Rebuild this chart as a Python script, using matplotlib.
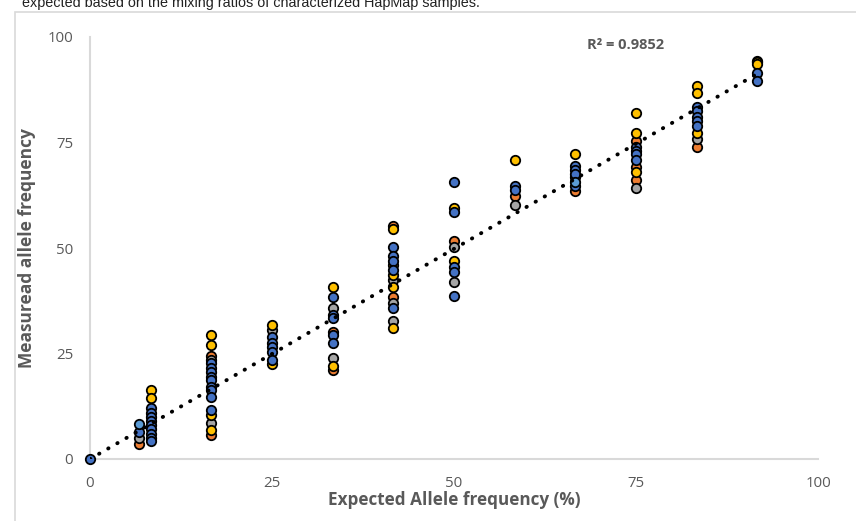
import matplotlib
matplotlib.use("Agg")
import matplotlib.pyplot as plt
import numpy as np
from matplotlib.patches import Rectangle

# expected allele frequency levels (%) and measured values per sample colour
blue_x = [0, 6.67] + [8.33] * 9 + [16.67] * 9 + [25] * 5 + [33.33] * 5 + [41.67] * 5 \
    + [50] * 5 + [58.33] * 2 + [66.67] * 4 + [75] * 4 + [83.33] * 5 + [91.67] * 2
blue_y = [0, 6.3,
          12.0, 11.0, 10.0, 9.0, 8.0, 7.0, 6.0, 5.0, 4.2,
          22.7, 21.5, 20.7, 19.5, 18.7, 17.1, 16.4, 14.8, 11.6,
          29.0, 27.4, 26.5, 25.4, 23.5,
          38.3, 34.1, 33.3, 29.4, 27.4,
          50.3, 48.1, 47.0, 44.8, 35.7,
          65.6, 58.5, 45.4, 44.2, 38.6,
          64.8, 63.7,
          69.4, 68.6, 67.5, 64.7,
          74.0, 73.0, 72.3, 70.9,
          83.5, 82.5, 81.1, 80.0, 78.9,
          91.5, 89.6]

orange_x = [6.67, 16.67, 16.67, 33.33, 33.33, 41.67, 41.67, 50, 58.33, 66.67, 75, 75, 75, 83.33]
orange_y = [3.6, 24.4, 5.7, 30.2, 21.1, 55.3, 38.5, 51.7, 62.4, 63.4, 75.4, 69.3, 66.1, 73.9]

gray_x = [6.67, 16.67, 16.67, 25, 33.33, 33.33, 41.67, 41.67, 41.67, 50, 50, 58.33, 75, 83.33, 91.67]
gray_y = [4.9, 23.5, 8.5, 30.6, 35.7, 23.9, 42.4, 37.0, 32.8, 50.3, 42.0, 60.3, 64.1, 75.8, 94.3]

yellow_x = [8.33, 8.33, 16.67, 16.67, 16.67, 16.67, 25, 25, 33.33, 33.33,
            41.67, 41.67, 41.67, 41.67, 41.67, 50, 50, 58.33, 66.67, 66.67,
            75, 75, 75, 83.33, 83.33, 83.33, 91.67, 91.67]
yellow_y = [16.4, 14.4, 29.4, 26.9, 10.4, 6.9, 31.8, 22.4, 40.8, 22.1,
            54.5, 46.0, 43.6, 40.8, 31.1, 59.4, 47.0, 70.9, 72.3, 66.8,
            82.1, 77.2, 68.1, 88.4, 86.7, 77.3, 94.0, 93.5]

lightblue_x = [6.67, 66.67]
lightblue_y = [8.3, 65.7]

r2_label = "R² = 0.9852"

fig = plt.figure(figsize=(8.56, 5.21), dpi=100)
ax = fig.add_axes([90 / 856, 1 - 459 / 521, 728 / 856, 422 / 521])

# outer chart frame and the cut-off caption above it
fig.patches.append(Rectangle((15 / 856, -0.1), 1.0, 1 - 12 / 521 + 0.1,
                             transform=fig.transFigure, fill=False,
                             edgecolor="#D9D9D9", linewidth=1.2))
fig.text(22 / 856, 1 - 7 / 521, "expected based on the mixing ratios of characterized HapMap samples.",
         family="Liberation Sans", fontsize=10.4, color="#222222", va="baseline")

series = [
    (orange_x, orange_y, "#ED7D31"),
    (gray_x, gray_y, "#A5A5A5"),
    (yellow_x, yellow_y, "#FFC000"),
    (blue_x, blue_y, "#4472C4"),
    (lightblue_x, lightblue_y, "#5B9BD5"),
]
for xs, ys, c in series:
    ax.scatter(xs, ys, s=46, color=c, edgecolors="black", linewidths=1.3,
               zorder=3, clip_on=False)

# linear trendline through the origin
all_x = np.concatenate([s[0] for s in series])
all_y = np.concatenate([s[1] for s in series])
slope = np.sum(all_x * all_y) / np.sum(all_x ** 2)
tx = np.array([0, all_x.max()])
ax.plot(tx, slope * tx, color="black", linewidth=2.8,
        linestyle=(0, (0.1, 2.6)), dash_capstyle="round", zorder=4)

ax.text(68.3, 98, r2_label, fontsize=10.5, fontweight="bold", color="#595959",
        family="Open Sans", va="center")

ax.set_xlim(0, 100)
ax.set_ylim(0, 100)
ax.set_xticks([0, 25, 50, 75, 100])
ax.set_yticks([0, 25, 50, 75, 100])
ax.tick_params(length=0, labelsize=10.8, labelcolor="#595959", pad=12)
for lab in ax.get_xticklabels() + ax.get_yticklabels():
    lab.set_family("Open Sans")
for side in ["top", "right"]:
    ax.spines[side].set_visible(False)
for side in ["left", "bottom"]:
    ax.spines[side].set_color("#D9D9D9")
    ax.spines[side].set_linewidth(1.5)

ax.set_xlabel("Expected Allele frequency (%)", fontsize=12.3, fontweight="bold",
              color="#595959", family="Open Sans", labelpad=0)
ax.set_ylabel("Measuread allele frequency", fontsize=12.5, fontweight="bold",
              color="#595959", family="Open Sans", labelpad=8)

fig.savefig("out.png", dpi=100)
